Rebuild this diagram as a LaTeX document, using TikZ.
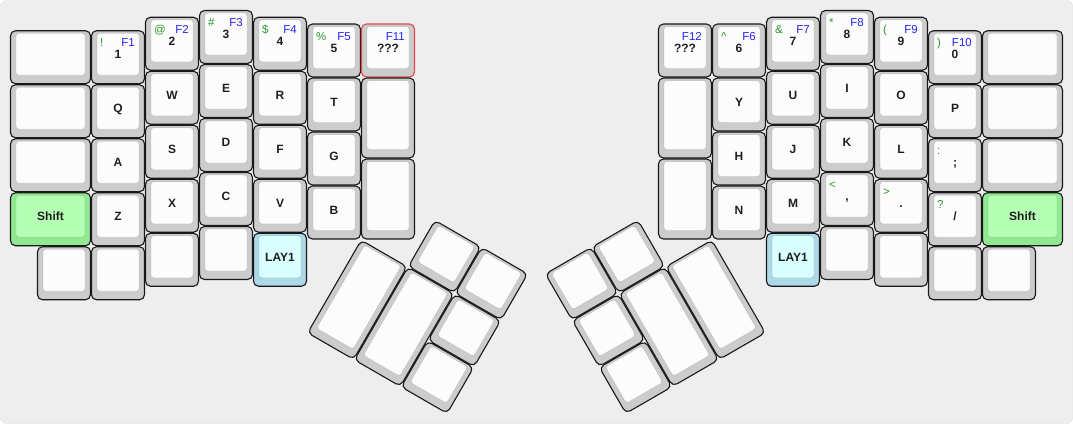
\documentclass[tikz,border=0pt]{standalone}
\usepackage{fontspec}
\newfontfamily\keyfont{Liberation Sans}

\definecolor{bgFill}{HTML}{EEEEEE}
\definecolor{bgLine}{HTML}{DCDCDC}
\definecolor{capSide}{HTML}{CCCCCC}
\definecolor{capTop}{HTML}{FCFCFC}
\definecolor{shiftSide}{HTML}{90E890}
\definecolor{shiftTop}{HTML}{B4FFB4}
\definecolor{laySide}{HTML}{ADD8E6}
\definecolor{layTop}{HTML}{DAFFFF}
\definecolor{alertLine}{HTML}{E84848}
\definecolor{symGreen}{HTML}{2A9A2A}
\definecolor{fnBlue}{HTML}{2424F0}

\tikzset{
  keybase/.style={line width=1.1pt, rounded corners=5pt, draw=black!90},
  topbase/.style={line width=0.8pt, rounded corners=3pt, draw=black, draw opacity=0.09},
  plainside/.style={keybase, fill=capSide},
  plaintop/.style={topbase, fill=capTop},
  shiftside/.style={keybase, fill=shiftSide},
  shifttop/.style={topbase, fill=shiftTop},
  layside/.style={keybase, fill=laySide},
  laytop/.style={topbase, fill=layTop},
  alertside/.style={keybase, fill=capSide, draw=alertLine},
  alerttop/.style={topbase, fill=capTop},
  keylabel/.style={anchor=base, inner sep=0pt, text=black!88,
    font=\keyfont\bfseries\fontsize{12}{12}\selectfont},
  tllabel/.style={anchor=base west, inner sep=0pt, text=symGreen,
    font=\keyfont\fontsize{11.5}{11.5}\selectfont},
  trlabel/.style={anchor=base east, inner sep=0pt, text=fnBlue,
    font=\keyfont\fontsize{11.5}{11.5}\selectfont}
}

% [colour set] name, x, y, width, height, legend, top-left, top-right
\newcommand{\kbkey}[9][plain]{%
  \draw[#1side] ({#3+0.5/54},{#4+0.5/54}) -- ({#3+#5-0.5/54},{#4+0.5/54})
    -- ({#3+#5-0.5/54},{#4+#6-0.5/54}) -- ({#3+0.5/54},{#4+#6-0.5/54}) -- cycle;
  \draw[#1top] ({#3+6/54},{#4+3/54}) -- ({#3+#5-6/54},{#4+3/54})
    -- ({#3+#5-6/54},{#4+#6-9/54}) -- ({#3+6/54},{#4+#6-9/54}) -- cycle;
  \node[keylabel] (#2) at ({#3+#5/2},{#4+28.7/54}) {#7};
  \if\relax\detokenize{#8}\relax\else
    \node[tllabel] (#2-tl) at ({#3+9/54},{#4+16.5/54}) {#8};\fi
  \if\relax\detokenize{#9}\relax\else
    \node[trlabel] (#2-tr) at ({#3+#5-10/54},{#4+16.5/54}) {#9};\fi
}

\begin{document}
\begin{tikzpicture}[x=54pt, y=-54pt]
\useasboundingbox (-10pt,10pt) rectangle (1063pt,-414pt);
\fill[white] (-10pt,10pt) rectangle (1063pt,-414pt);
\draw[fill=bgFill, draw=bgLine, rounded corners=6pt] (-9.5pt,9.5pt) rectangle (1062.5pt,-413.5pt);

% left half
\kbkey{lw1}{0}{0.375}{1.5}{1}{}{}{}
\kbkey{lw2}{0}{1.375}{1.5}{1}{}{}{}
\kbkey{lw3}{0}{2.375}{1.5}{1}{}{}{}
\kbkey[shift]{lshift}{0}{3.375}{1.5}{1}{Shift}{}{}
\kbkey{lb1}{0.5}{4.375}{1}{1}{}{}{}

\kbkey{k1}{1.5}{0.375}{1}{1}{1}{!}{F1}
\foreach \n/\y/\lab in {q/1.375/Q, a/2.375/A, z/3.375/Z}
  {\kbkey{k\n}{1.5}{\y}{1}{1}{\lab}{}{}}
\kbkey{lb2}{1.5}{4.375}{1}{1}{}{}{}

\kbkey{k2}{2.5}{0.125}{1}{1}{2}{@}{F2}
\foreach \n/\y/\lab in {w/1.125/W, s/2.125/S, x/3.125/X}
  {\kbkey{k\n}{2.5}{\y}{1}{1}{\lab}{}{}}
\kbkey{lb3}{2.5}{4.125}{1}{1}{}{}{}

\kbkey{k3}{3.5}{0}{1}{1}{3}{\#}{F3}
\foreach \n/\y/\lab in {e/1/E, d/2/D, c/3/C}
  {\kbkey{k\n}{3.5}{\y}{1}{1}{\lab}{}{}}
\kbkey{lb4}{3.5}{4}{1}{1}{}{}{}

\kbkey{k4}{4.5}{0.125}{1}{1}{4}{\$}{F4}
\foreach \n/\y/\lab in {r/1.125/R, f/2.125/F, v/3.125/V}
  {\kbkey{k\n}{4.5}{\y}{1}{1}{\lab}{}{}}
\kbkey[lay]{llay}{4.5}{4.125}{1}{1}{LAY1}{}{}

\kbkey{k5}{5.5}{0.25}{1}{1}{5}{\%}{F5}
\foreach \n/\y/\lab in {t/1.25/T, g/2.25/G, b/3.25/B}
  {\kbkey{k\n}{5.5}{\y}{1}{1}{\lab}{}{}}

\kbkey[alert]{kf11}{6.5}{0.25}{1}{1}{???}{}{F11}
\kbkey{li1}{6.5}{1.25}{1}{1.5}{}{}{}
\kbkey{li2}{6.5}{2.75}{1}{1.5}{}{}{}

% left thumb
\begin{scope}[shift={(6.5,4.25)}, rotate=-30]
  \kbkey{lt1}{1}{-1}{1}{1}{}{}{}
  \kbkey{lt2}{2}{-1}{1}{1}{}{}{}
  \kbkey{lt3}{0}{0}{1}{2}{}{}{}
  \kbkey{lt4}{1}{0}{1}{2}{}{}{}
  \kbkey{lt5}{2}{0}{1}{1}{}{}{}
  \kbkey{lt6}{2}{1}{1}{1}{}{}{}
\end{scope}

% right half
\kbkey{kf12}{12}{0.25}{1}{1}{???}{}{F12}
\kbkey{ri1}{12}{1.25}{1}{1.5}{}{}{}
\kbkey{ri2}{12}{2.75}{1}{1.5}{}{}{}

\kbkey{k6}{13}{0.25}{1}{1}{6}{\textasciicircum}{F6}
\foreach \n/\y/\lab in {y/1.25/Y, h/2.25/H, n/3.25/N}
  {\kbkey{k\n}{13}{\y}{1}{1}{\lab}{}{}}

\kbkey{k7}{14}{0.125}{1}{1}{7}{\&}{F7}
\foreach \n/\y/\lab in {u/1.125/U, j/2.125/J, m/3.125/M}
  {\kbkey{k\n}{14}{\y}{1}{1}{\lab}{}{}}
\kbkey[lay]{rlay}{14}{4.125}{1}{1}{LAY1}{}{}

\kbkey{k8}{15}{0}{1}{1}{8}{*}{F8}
\kbkey{ki}{15}{1}{1}{1}{I}{}{}
\kbkey{kk}{15}{2}{1}{1}{K}{}{}
\kbkey{kcomma}{15}{3}{1}{1}{,}{<}{}
\kbkey{rb4}{15}{4}{1}{1}{}{}{}

\kbkey{k9}{16}{0.125}{1}{1}{9}{(}{F9}
\kbkey{ko}{16}{1.125}{1}{1}{O}{}{}
\kbkey{kl}{16}{2.125}{1}{1}{L}{}{}
\kbkey{kdot}{16}{3.125}{1}{1}{.}{>}{}
\kbkey{rb3}{16}{4.125}{1}{1}{}{}{}

\kbkey{k0}{17}{0.375}{1}{1}{0}{)}{F10}
\kbkey{kp}{17}{1.375}{1}{1}{P}{}{}
\kbkey{ksemi}{17}{2.375}{1}{1}{;}{:}{}
\kbkey{kslash}{17}{3.375}{1}{1}{/}{?}{}
\kbkey{rb2}{17}{4.375}{1}{1}{}{}{}

\kbkey{rw1}{18}{0.375}{1.5}{1}{}{}{}
\kbkey{rw2}{18}{1.375}{1.5}{1}{}{}{}
\kbkey{rw3}{18}{2.375}{1.5}{1}{}{}{}
\kbkey[shift]{rshift}{18}{3.375}{1.5}{1}{Shift}{}{}
\kbkey{rb1}{18}{4.375}{1}{1}{}{}{}

% right thumb
\begin{scope}[shift={(13,4.25)}, rotate=30]
  \kbkey{rt1}{-2}{-1}{1}{1}{}{}{}
  \kbkey{rt2}{-3}{-1}{1}{1}{}{}{}
  \kbkey{rt3}{-1}{0}{1}{2}{}{}{}
  \kbkey{rt4}{-2}{0}{1}{2}{}{}{}
  \kbkey{rt5}{-3}{0}{1}{1}{}{}{}
  \kbkey{rt6}{-3}{1}{1}{1}{}{}{}
\end{scope}
\end{tikzpicture}
\end{document}
